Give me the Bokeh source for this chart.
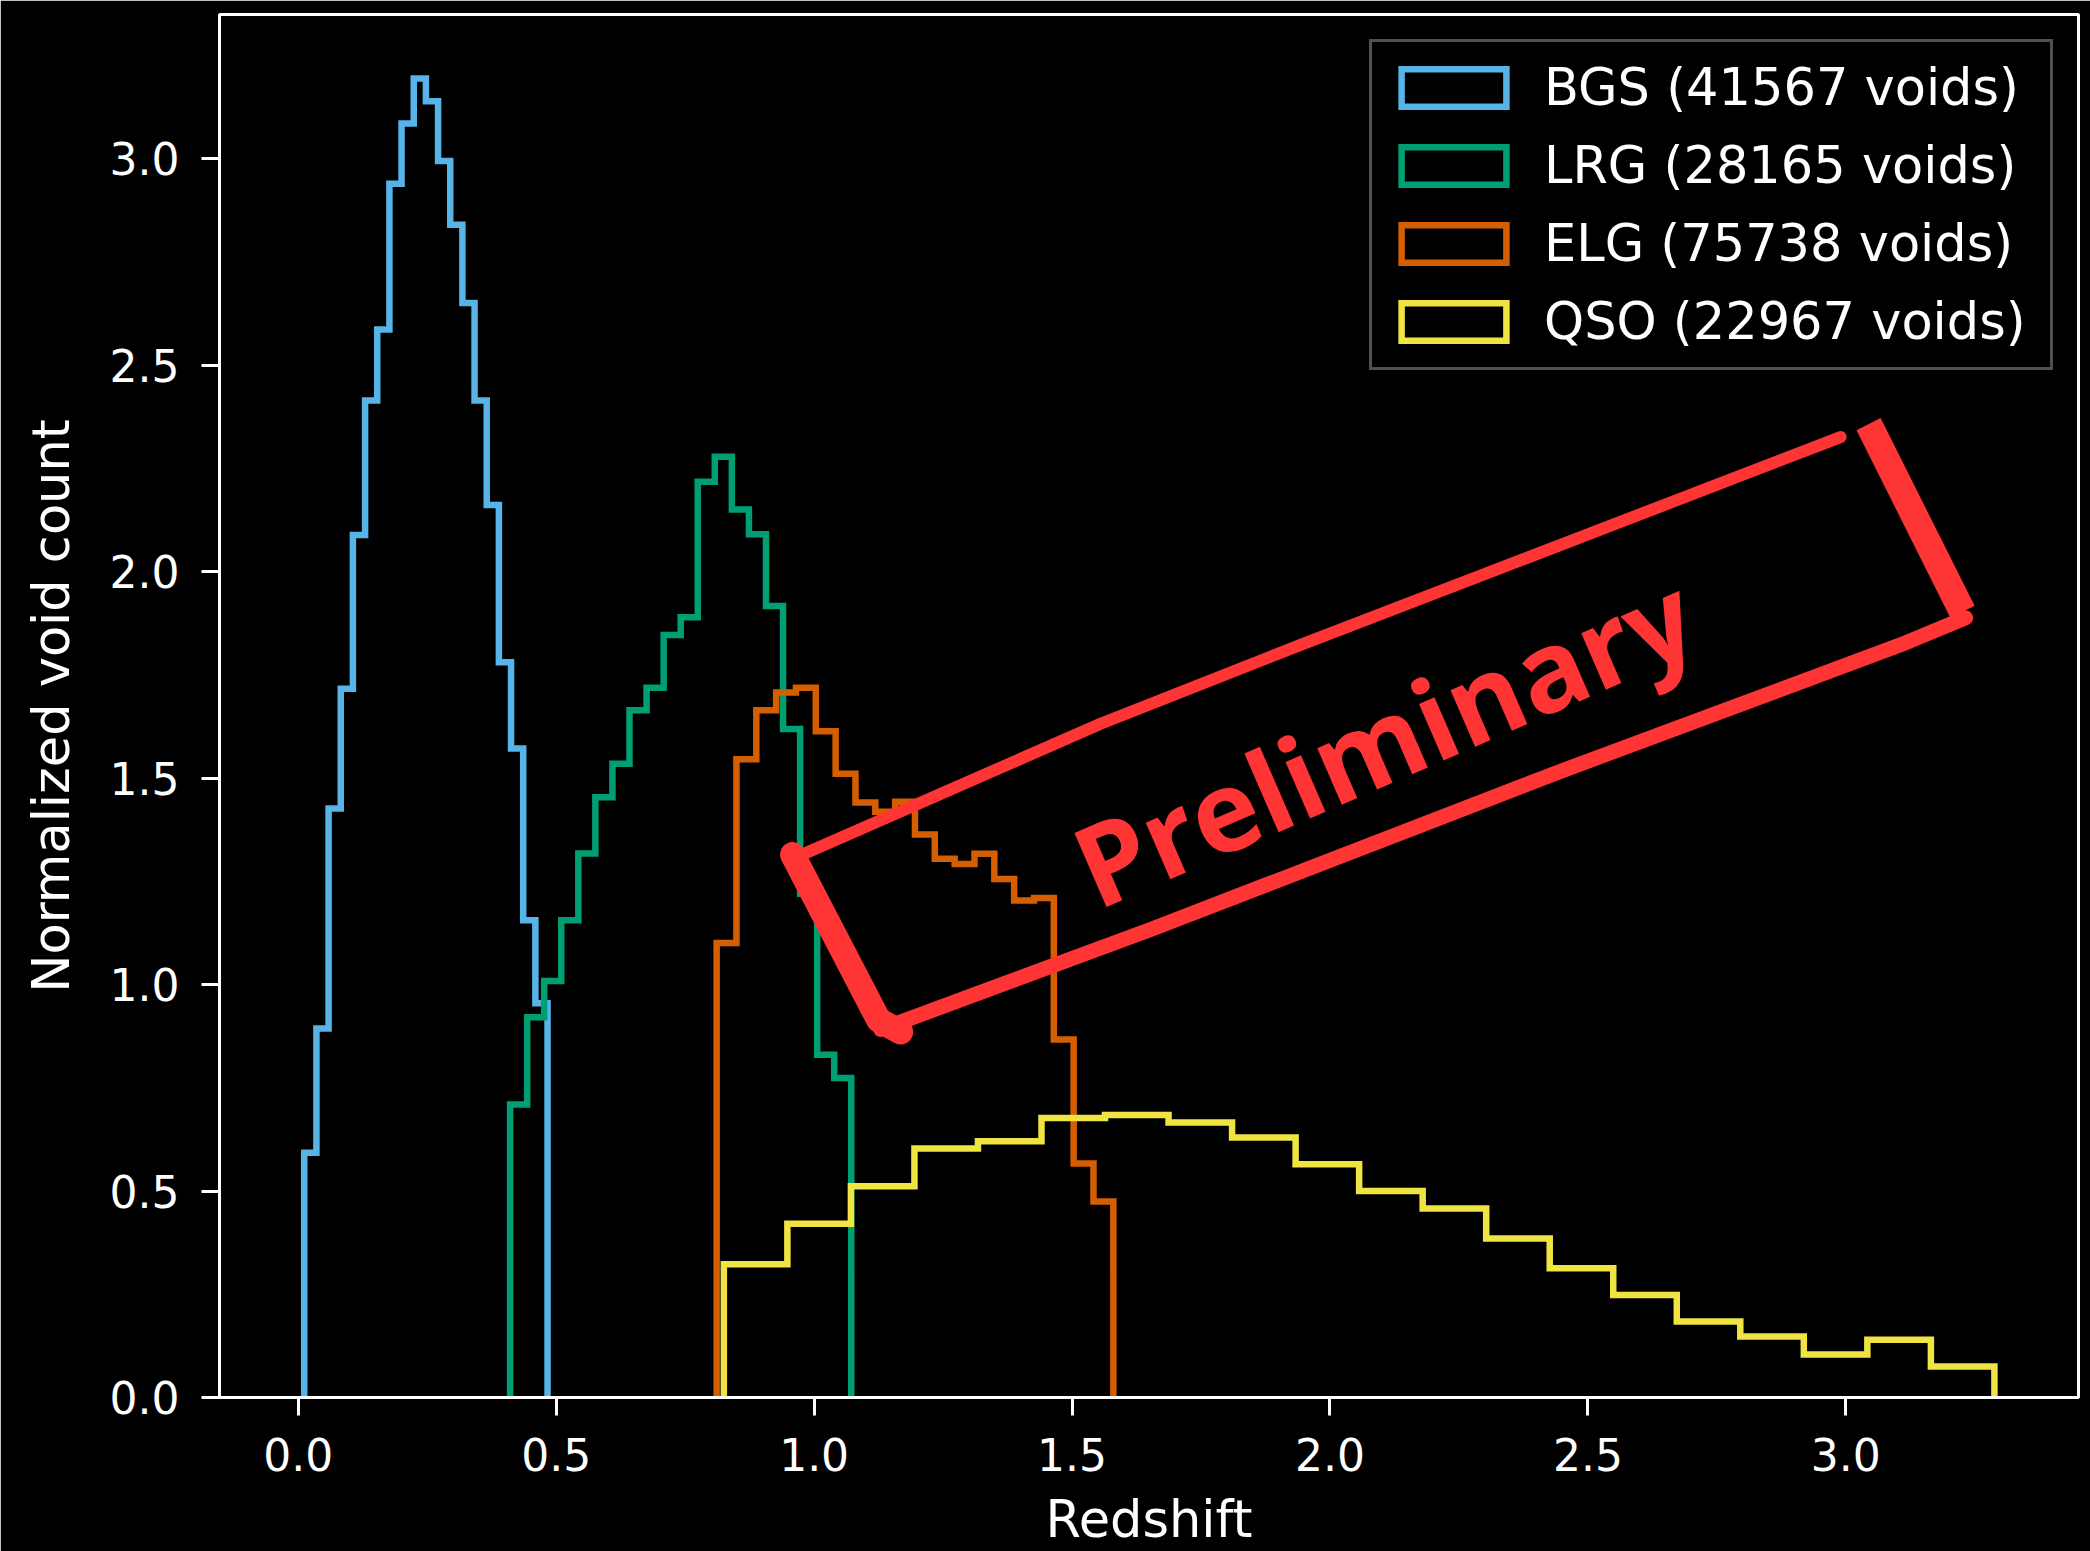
import numpy as np
from bokeh.plotting import figure
from bokeh.models import Range1d, Legend, LegendItem, FixedTicker
from bokeh.core.properties import value
from bokeh.embed import file_html
from bokeh.resources import INLINE

# ---------------- data ----------------
samples = ["BGS", "LRG", "ELG", "QSO"]
void_counts = [41567, 28165, 75738, 22967]
colors = ["#56B4E9", "#009E73", "#D55E00", "#F0E442"]

bgs_range = [0.0116, 0.4832]
bgs_density = [0.593, 0.894, 1.427, 1.717, 2.089, 2.415, 2.587, 2.940, 3.086, 3.195,
               3.140, 2.995, 2.841, 2.651, 2.415, 2.162, 1.781, 1.572, 1.156, 0.955]
lrg_range = [0.4106, 1.0720]
lrg_density = [0.710, 0.921, 1.009, 1.156, 1.318, 1.454, 1.535, 1.665, 1.719, 1.847,
               1.890, 2.218, 2.279, 2.151, 2.091, 1.917, 1.619, 1.220, 0.830, 0.774]
elg_range = [0.8110, 1.5800]
elg_density = [1.101, 1.546, 1.665, 1.708, 1.719, 1.614, 1.511, 1.441, 1.419, 1.443,
               1.364, 1.305, 1.292, 1.317, 1.256, 1.204, 1.210, 0.867, 0.567, 0.475]
qso_range = [0.8250, 3.2880]
qso_density = [0.323, 0.421, 0.512, 0.603, 0.621, 0.677, 0.684, 0.666, 0.630, 0.565,
               0.500, 0.458, 0.385, 0.313, 0.248, 0.184, 0.148, 0.104, 0.140, 0.075]

x_ticks = [0.0, 0.5, 1.0, 1.5, 2.0, 2.5, 3.0]
x_tick_labels = ["0.0", "0.5", "1.0", "1.5", "2.0", "2.5", "3.0"]
y_ticks = [0.0, 0.5, 1.0, 1.5, 2.0, 2.5, 3.0]
y_tick_labels = ["0.0", "0.5", "1.0", "1.5", "2.0", "2.5", "3.0"]

x_label = "Redshift"
y_label = "Normalized void count"
stamp_text = "Preliminary"

# "Preliminary" stamp outline (annotation, in data units)
stamp_top_x = [0.9641, 1.5553, 1.9430, 2.3714, 2.9898]
stamp_top_y = [1.3078, 1.6320, 1.8232, 2.0288, 2.3265]
stamp_bottom_x = [1.1289, 1.6523, 2.4450, 3.1060, 3.2320]
stamp_bottom_y = [0.8916, 1.1336, 1.5159, 1.8232, 1.8885]
stamp_left_x = [0.9583, 1.1251, 1.1677]
stamp_left_y = [1.3150, 0.9142, 0.8852]
stamp_right_x = [3.0440, 3.2262]
stamp_right_y = [2.3578, 1.9030]
stamp_text_x = [1.5146]
stamp_text_y = [1.2760]
stamp_color = "#FF3434"

series = [
    (bgs_range, bgs_density),
    (lrg_range, lrg_density),
    (elg_range, elg_density),
    (qso_range, qso_density),
]

# ---------------- figure ----------------
p = figure(width=2090, height=1551, output_backend="svg", toolbar_location=None,
           x_range=Range1d(-0.1527, 3.451), y_range=Range1d(0.0, 3.35),
           min_border_left=219, min_border_right=12, min_border_top=14,
           min_border_bottom=152)
p.background_fill_color = "black"
p.border_fill_color = "black"
p.outline_line_color = "white"
p.outline_line_width = 3
p.xgrid.visible = False
p.ygrid.visible = False

for ax, ticks, labels in ((p.xaxis, x_ticks, x_tick_labels), (p.yaxis, y_ticks, y_tick_labels)):
    ax.ticker = FixedTicker(ticks=ticks)
    ax.major_label_overrides = {t: l for t, l in zip(ticks, labels)}
    ax.axis_line_color = "white"
    ax.axis_line_width = 3
    ax.major_tick_line_color = "white"
    ax.major_tick_line_width = 3
    ax.major_tick_out = 18
    ax.major_tick_in = 0
    ax.minor_tick_line_color = None
    ax.major_label_text_color = "white"
    ax.major_label_text_font = "DejaVu Sans"
    ax.major_label_text_font_size = "44px"
    ax.axis_label_text_color = "white"
    ax.axis_label_text_font = "DejaVu Sans"
    ax.axis_label_text_font_size = "51px"
    ax.axis_label_text_font_style = "normal"

p.xaxis.axis_label = x_label
p.yaxis.axis_label = y_label
p.xaxis.major_label_standoff = 22
p.xaxis.axis_label_standoff = 16
p.yaxis.major_label_standoff = 22
p.yaxis.axis_label_standoff = 26

legend_items = []
for name, count, color, (rng, dens) in zip(samples, void_counts, colors, series):
    edges = np.linspace(rng[0], rng[1], len(dens) + 1)
    xs = [edges[0]]
    ys = [0.0]
    for i, h in enumerate(dens):
        xs += [edges[i], edges[i + 1]]
        ys += [h, h]
    xs.append(edges[-1])
    ys.append(0.0)
    p.line(xs, ys, line_color=color, line_width=6.5, line_join="miter")
    leg = p.quad(left=np.array([np.nan]), right=np.array([np.nan]),
                 bottom=np.array([np.nan]), top=np.array([np.nan]),
                 fill_alpha=0, line_color=color, line_width=6.5, line_join="miter")
    legend_items.append(LegendItem(label=f"{name} ({count} voids)", renderers=[leg]))

# stamp
p.line(stamp_top_x, stamp_top_y, line_color=stamp_color, line_width=12, line_cap="round", line_join="round")
p.line(stamp_bottom_x, stamp_bottom_y, line_color=stamp_color, line_width=15, line_cap="round", line_join="round")
p.line(stamp_left_x, stamp_left_y, line_color=stamp_color, line_width=25, line_cap="round", line_join="round")
p.line(stamp_right_x, stamp_right_y, line_color=stamp_color, line_width=27, line_cap="butt", line_join="round")
p.text(x=stamp_text_x, y=stamp_text_y, text=[stamp_text], angle=23.5, angle_units="deg",
       text_font=value("Open Sans"), text_font_style="bold", text_font_size="113px",
       text_color=stamp_color, text_align="left", text_baseline="alphabetic")

legend = Legend(items=legend_items, location="top_right")
legend.margin = 25
legend.padding = 16
legend.spacing = 19
legend.glyph_width = 131
legend.glyph_height = 47
legend.label_standoff = 25
legend.label_width = 490
legend.label_text_font = "DejaVu Sans"
legend.label_text_font_size = "51px"
legend.label_text_color = "white"
legend.background_fill_color = "black"
legend.background_fill_alpha = 0.8
legend.border_line_color = "#a0a0a0"
legend.border_line_width = 3
p.add_layout(legend)

open("out.html", "w").write(file_html(p, INLINE))
